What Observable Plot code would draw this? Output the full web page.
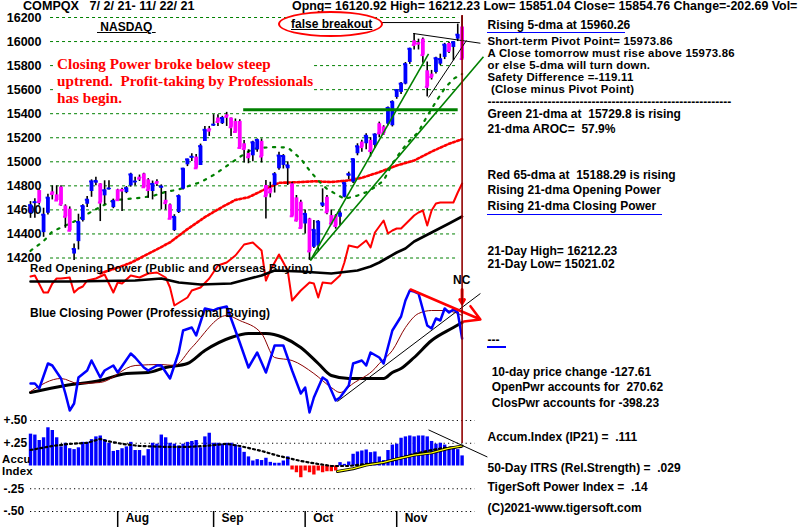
<!DOCTYPE html>
<html><head><meta charset="utf-8">
<script src="https://cdn.jsdelivr.net/npm/d3@7"></script>
<script src="https://cdn.jsdelivr.net/npm/@observablehq/plot@0.6"></script>
<style>
body{margin:0;background:#fff}
#chart{position:relative;width:800px;height:529px;overflow:hidden;background:#fff;font-family:"Liberation Sans",Arial,Helvetica,sans-serif;}
.t{position:absolute;white-space:pre;font-weight:bold;font-size:12px;color:#000;line-height:10px;transform:translateY(-50%)}
.s{font-size:11.4px;letter-spacing:0.22px}
</style></head><body><div id="chart"></div>
<script>
// ---------- DATA ----------
const open = [
14572,14655,14761,14411,14572,14750,14725,14789,14633,14606,
14233,14336,14511,14647,14753,14822,14817,14717,14770,14619,
14767,14770,14744,14800,14828,14872,14900,14850,14753,14835,
14781,14680,14642,14428,14578,14772,14975,15030,15039,14969,
15169,15275,15300,15364,15317,15390,15364,15336,15336,15150,
15070,15050,15100,15170,14803,14780,14803,14942,14970,14942,
14817,14700,14664,14483,14525,14289,14300,14630,14705,14553,
14553,14539,14705,14880,14830,15067,15164,15150,15178,15136,
15317,15290,15313,15300,15535,15577,15646,15826,16006,15990,
16020,15757,15729,15743,15812,15868,15984,15951,16020,16121];
const high = [
14669,14692,14767,14614,14731,14800,14800,14800,14642,14625,
14317,14564,14642,14711,14850,14872,14817,14842,14842,14690,
14772,14781,14794,14905,14872,14890,14905,14860,14840,14850,
14808,14753,14650,14560,14725,14947,15022,15067,15060,15147,
15294,15294,15392,15392,15378,15411,15364,15356,15350,15178,
15100,15170,15190,15190,14844,14830,14910,15080,15060,15000,
14830,14720,14680,14600,14530,14511,14511,14775,14720,14600,
14560,14590,14830,14914,15025,15150,15180,15233,15200,15233,
15330,15300,15456,15507,15600,15660,15826,15945,16067,16020,
16030,15830,15760,15870,15895,15985,15995,16000,16145,16212];
const low = [
14530,14530,14640,14372,14558,14683,14675,14630,14447,14419,
14180,14267,14500,14619,14705,14800,14503,14642,14765,14610,
14675,14586,14735,14790,14800,14836,14780,14697,14683,14794,
14600,14600,14520,14420,14570,14765,14960,15003,14940,14969,
15169,15211,15294,15294,15310,15294,15211,15239,15108,14990,
14984,15000,15080,14990,14525,14700,14740,14930,14940,14803,
14540,14500,14440,14400,14180,14280,14250,14620,14560,14480,
14440,14470,14700,14850,14820,15050,15080,15100,15040,15110,
15200,15220,15300,15290,15520,15560,15640,15810,15930,15930,
15820,15540,15680,15730,15800,15850,15900,15840,16000,15851];
const close = [
14639,14664,14665,14560,14702,14733,14678,14645,14543,14427,
14275,14499,14632,14685,14837,14841,14661,14763,14778,14673,
14681,14761,14781,14895,14836,14860,14788,14765,14816,14823,
14794,14656,14526,14542,14715,14943,15020,15042,14946,15130,
15266,15259,15309,15331,15364,15374,15287,15248,15115,15106,
15038,15162,15182,15044,14714,14746,14897,15052,15048,14970,
14547,14512,14449,14567,14255,14434,14502,14654,14580,14486,
14466,14572,14823,14897,15022,15129,15122,15216,15090,15227,
15236,15236,15448,15498,15596,15650,15812,15940,15972,15982,
15887,15623,15704,15861,15854,15974,15922,15994,16057,15855];

const ma21Idx = [0,3,5,8,11,13,16,19,22,25,28,31,34,36,39,42,45,48,51,55,59,62,64,66,68,70,72,75,77,79,81,83,85,87,89,90,91,92,93,95,97,99];
const ma21Val = [14260,14340,14420,14470,14520,14565,14625,14680,14690,14700,14715,14750,14770,14795,14830,14890,14965,15040,15108,15122,15120,15025,14928,14844,14775,14733,14692,14719,14747,14789,14844,14983,15090,15178,15247,15317,15380,15440,15500,15610,15690,15730];
const ma65Idx = [16,20,23,28,32,36,40,44,47,50,54,57,61,65,69,73,76,80,84,88,92,96,99];
const ma65Val = [14072,14120,14160,14253,14330,14440,14540,14625,14683,14705,14775,14825,14830,14838,14832,14845,14867,14914,14969,15011,15085,15150,15188];

const opIdx = [0,1,3,4,5,6,7,9,10,11,12,13,15,17,19,20,21,23,25,27,29,31,32,33,36,37,39,41,43,45,47,49,51,53,54,55,57,59,60,62,64,65,66,67,69,71,72,73,75,77,78,79,81,82,83,84,85,88,89,90,91,92,93,94,97,98,99];
const opVal = [24,25,8,8,17,22,22,23,8,12,14,20,22,26,8,18,17,25,23,27,28,23,13,-5,3,10,13,22,35,38,45,56,58,50,20,30,46,30,0,10,18,17,3,18,17,25,38,55,53,60,53,68,80,67,70,72,72,85,88,90,75,90,97,98,98,108,117];
const opMaIdx = [0,9,24,30,34,39,46,53,56,62,69,75,78,80,82,84,86,88,92,96,99];
const opMaVal = [19,19,20,22,18,16,17,25,30,29,27,30,34,38,43,48,52,59,68,77,84];

const cpIdx = [0,1,2,4,5,7,8,9,10,11,13,14,16,17,19,20,23,24,26,27,29,30,32,34,35,37,38,40,42,43,45,46,48,50,52,54,56,58,60,62,63,64,65,67,68,70,71,73,74,76,77,78,80,81,83,85,86,87,88,89,91,92,93,94,95,96,97,98,99];
const cpVal = [37,37,32,57,55,42,27,10,17,43,50,60,43,50,55,48,67,63,53,50,55,55,42,68,90,93,85,112,110,112,114,102,78,53,68,48,75,75,50,27,33,8,23,43,40,20,23,35,57,60,55,68,63,57,90,104,120,130,129,127,95,92,102,100,112,108,111,108,82];
const cpMaIdx = [0,7,11,16,24,30,33,37,45,48,53,56,60,65,69,71,74,79,80,83,86,89,92,95,98,99];
const cpMaVal = [29,42,37,38,55,56,55,73,105,100,87,63,60,47,33,28,37,52,57,70,93,107,110,110,107,105];
const cpMa2Idx = [0,8,16,22,27,31,36,40,46,50,54,58,62,66,69,73,77,81,83,85,88,92,97,99];
const cpMa2Val = [28,35,40,47,48,53,57,70,83,87,87,83,73,57,45,42,42,42,48,52,63,80,93,98];

const accum = [
0.35,0.34,0.28,0.31,0.42,0.39,0.31,0.21,0.25,0.19,
0.18,0.20,0.26,0.26,0.29,0.32,0.33,0.29,0.25,0.16,
0.17,0.19,0.21,0.26,0.17,0.17,0.11,0.18,0.25,0.24,
0.34,0.31,0.25,0.24,0.22,0.24,0.26,0.27,0.28,0.20,
0.32,0.36,0.25,0.25,0.24,0.25,0.25,0.23,0.20,0.15,
0.10,0.055,0.07,0.06,0.085,0.04,0.03,0.03,0.055,0.10,
-0.044,-0.074,-0.129,-0.055,-0.074,-0.099,-0.055,-0.074,-0.063,-0.063,
-0.055,0.037,0.018,0.044,0.129,0.154,0.165,0.176,0.147,0.154,
0.099,0.06,0.17,0.23,0.24,0.305,0.32,0.33,0.32,0.33,
0.33,0.32,0.27,0.24,0.25,0.23,0.20,0.21,0.18,0.111];
const accMaIdx = [0,5,9,13,16,17,21,25,31,36,40,45,48,53,57,62,66,69,73,77,81,84,88,92,95,99];
const accMaVal = [0.176,0.22,0.243,0.254,0.298,0.28,0.243,0.22,0.21,0.21,0.22,0.243,0.22,0.165,0.11,0.055,0.022,0,0,0.022,0.033,0.077,0.132,0.176,0.2,0.21];
const itrsIdx = [70.4,74,77,81,84,88,92,95.6,99];
const itrsVal = [-0.06,-0.03,0.01,0.04,0.077,0.12,0.145,0.19,0.22];

const priceTicks = [14200,14400,14600,14800,15000,15200,15400,15600,15800,16000,16200];
const accTicks = [0.5,0.25,-0.25,-0.5];
const accTickLabels = ["+.50","+.25","-.25","-.50"];
const monthNames = ["Aug","Sep","Oct","Nov"];
const monthStart = [20,42,63,84];

const resistance = 15432, resFrom = 48.9, resTo = 98.1;
const breakoutLevel = 16158, breakoutFrom = 78.7, breakoutTo = 98.6;
const greenTrends = [{x1:64.2,y1:14180,x2:91.3,y2:15898},{x1:64.2,y1:14180,x2:103.9,y2:15873}];
const blackTrends = [{x1:87.8,y1:16067,x2:103.2,y2:15986},{x1:91.3,y1:15535,x2:100,y2:16009}];
const cpTrendUp = [{x1:70.4,y1:19,x2:103.2,y2:127}];
const cpTrendDown = [{x1:87.2,y1:131,x2:103.2,y2:101}];
const ncArrow = [{x1:99,y1:131,x2:99,y2:117}];
const accTrend = [{x1:91.3,y1:0.397,x2:104.8,y2:0.099}];
const gridFrom = 4.6, gridTo = 98.2, accGridFrom = 0, accGridTo = 102;
const lastIdx = 99;

// ---------- BUILD ----------
const FONT = '"Liberation Sans", Arial, Helvetica, sans-serif';
const chart = document.getElementById("chart");
const days = d3.range(100).map(i => ({i, o: open[i], h: high[i], l: low[i], c: close[i]}));
const zip = (a, b) => a.map((i, k) => ({i, v: b[k]}));
const ma21 = zip(ma21Idx, ma21Val), ma65 = zip(ma65Idx, ma65Val);
const op = zip(opIdx, opVal), opMa = zip(opMaIdx, opMaVal);
const cp = zip(cpIdx, cpVal), cpMa = zip(cpMaIdx, cpMaVal), cpMa2 = zip(cpMa2Idx, cpMa2Val);
const acc = accum.map((v, i) => ({i, v}));
const accMa = zip(accMaIdx, accMaVal), itrs = zip(itrsIdx, itrsVal);
const bodyColor = d => d.c >= d.o ? "#0000ff" : "#ff00ff";

const base = {width: 800, marginLeft: 30, marginRight: 338.4, x: {domain: [0, 99], axis: null},
  color: {type: "identity"}, style: {background: "transparent", overflow: "visible", fontFamily: FONT}};
function place(svg) { svg.style.position = "absolute"; svg.style.left = "0px"; svg.style.top = "0px"; chart.appendChild(svg); }

// price panel
place(Plot.plot({...base, height: 265, marginTop: 17, marginBottom: 7.5,
  y: {domain: [14200, 16200], axis: null},
  marks: [
    Plot.ruleY(priceTicks, {x1: gridFrom, x2: gridTo, stroke: "#008000", strokeWidth: 1, strokeDasharray: "3,3"}),
    Plot.text(priceTicks, {y: d => d, text: d => String(d), frameAnchor: "left", textAnchor: "end", dx: 11, fontSize: 12.5, fontWeight: "bold", fill: "#000"}),
    Plot.line(ma65, {x: "i", y: "v", stroke: "#ff0000", strokeWidth: 2.6, strokeDasharray: "2.2,2.2"}),
    Plot.line(ma21, {x: "i", y: "v", stroke: "#008000", strokeWidth: 2.2, strokeDasharray: "2.2,6.5"}),
    Plot.ruleX(days, {x: "i", y1: "l", y2: "h", stroke: "#000", strokeWidth: 1.6}),
    Plot.ruleX(days, {x: "i", y1: "o", y2: "c", stroke: bodyColor, strokeWidth: 3.8}),
    Plot.ruleY(days, {y: "c", x1: d => d.i - 0.43, x2: d => d.i + 0.43, stroke: bodyColor, strokeWidth: 2}),
    Plot.ruleY([resistance], {x1: resFrom, x2: resTo, stroke: "#008000", strokeWidth: 3}),
    Plot.link(greenTrends, {x1: "x1", y1: "y1", x2: "x2", y2: "y2", stroke: "#008000", strokeWidth: 1.6}),
    Plot.link(blackTrends, {x1: "x1", y1: "y1", x2: "x2", y2: "y2", stroke: "#000", strokeWidth: 1}),
    Plot.ruleY([breakoutLevel], {x1: breakoutFrom, x2: breakoutTo, stroke: "#000", strokeWidth: 1})
  ]}));

// opening power
place(Plot.plot({...base, height: 305, marginTop: 0, marginBottom: 0,
  y: {domain: [-5, 300], axis: null},
  marks: [
    Plot.line(op, {x: "i", y: "v", stroke: "#ff0000", strokeWidth: 2}),
    Plot.line(opMa, {x: "i", y: "v", stroke: "#000", strokeWidth: 2.6})
  ]}));

// closing power
place(Plot.plot({...base, height: 420, marginTop: 0, marginBottom: 0,
  y: {domain: [0, 420], axis: null},
  marks: [
    Plot.line(cpMa2, {x: "i", y: "v", stroke: "#000", strokeWidth: 3, curve: "monotone-x"}),
    Plot.line(cpMa, {x: "i", y: "v", stroke: "#8b0000", strokeWidth: 1, curve: "monotone-x"}),
    Plot.link(cpTrendUp, {x1: "x1", y1: "y1", x2: "x2", y2: "y2", stroke: "#000", strokeWidth: 1}),
    Plot.line(cp, {x: "i", y: "v", stroke: "#0000ff", strokeWidth: 2.5}),
    Plot.arrow(cpTrendDown, {x1: "x1", y1: "y1", x2: "x2", y2: "y2", stroke: "#ff0000", strokeWidth: 2.5, headLength: 10}),
    Plot.arrow(ncArrow, {x1: "x1", y1: "y1", x2: "x2", y2: "y2", stroke: "#ff0000", strokeWidth: 3, headLength: 10})
  ]}));

// accumulation index
place(Plot.plot({...base, height: 529, marginTop: 420, marginBottom: 18,
  y: {domain: [-0.5, 0.5], axis: null},
  marks: [
    Plot.ruleY(accTicks, {x1: accGridFrom, x2: accGridTo, stroke: "#000", strokeWidth: 1.2, strokeDasharray: "1.2,3.2"}),
    Plot.text(accTicks, {y: d => d, text: (d, k) => accTickLabels[k], frameAnchor: "left", textAnchor: "start", dx: -27, fontSize: 12, fontWeight: "bold", fill: "#000"}),
    Plot.ruleX(acc, {x: "i", y1: 0, y2: "v", stroke: d => d.v >= 0 ? "#0000ff" : "#ff0000", strokeWidth: 3.4}),
    Plot.line(accMa, {x: "i", y: "v", stroke: "#000", strokeWidth: 2.2, strokeDasharray: "2,3"}),
    Plot.line(itrs, {x: "i", y: "v", stroke: "#000", strokeWidth: 3}),
    Plot.line(itrs, {x: "i", y: "v", stroke: "#ffff00", strokeWidth: 1.3}),
    Plot.link(accTrend, {x1: "x1", y1: "y1", x2: "x2", y2: "y2", stroke: "#000", strokeWidth: 1})
  ]}));

// month axis
place(Plot.plot({...base, height: 527, marginTop: 511, marginBottom: 0,
  marks: [
    Plot.ruleX(monthStart, {x: d => d, stroke: "#000", strokeWidth: 1.5}),
    Plot.text(monthStart, {x: d => d, text: (d, k) => monthNames[k], frameAnchor: "middle", textAnchor: "start", dx: 8, dy: -1, fontSize: 12, fontWeight: "bold", fill: "#000"})
  ]}));

// vertical marker of the last day
place(Plot.plot({...base, height: 443, marginTop: 15, marginBottom: 0,
  marks: [Plot.ruleX([lastIdx], {x: d => d, stroke: "#900000", strokeWidth: 1.6})]}));

// ---------- TEXT ----------
function label(text, x, y, st = {}, cls = "") {
  const d = document.createElement("div"); d.className = "t " + cls; d.textContent = text;
  d.style.left = x + "px"; d.style.top = y + "px"; Object.assign(d.style, st); chart.appendChild(d); return d;
}
function bar(x, y, w, h, color) {
  const d = document.createElement("div");
  Object.assign(d.style, {position: "absolute", left: x + "px", top: y + "px", width: w + "px", height: h + "px", background: color});
  chart.appendChild(d);
}
label("COMPQX   7/ 2/ 21- 11/ 22/ 21", 23, 6, {fontSize: "12.6px"});
label("Opng= 16120.92 High= 16212.23 Low= 15851.04 Close= 15854.76 Change=-202.69 Vol=", 292, 6, {fontSize: "12.4px"});
label(" NASDAQ ", 97, 27, {textDecoration: "underline"});

const ell = document.createElement("div");
Object.assign(ell.style, {position: "absolute", left: "278px", top: "11px", width: "105px", height: "26px", boxSizing: "border-box", border: "2px solid #ff0000", borderRadius: "50%", background: "#fff"});
chart.appendChild(ell);
label("false breakout", 291, 24, {textDecoration: "underline"});

const box = document.createElement("div");
Object.assign(box.style, {position: "absolute", left: "53px", top: "53px", width: "259px", height: "51px", background: "#fff"});
chart.appendChild(box);
const red = {fontFamily: '"Liberation Serif","Times New Roman",serif', fontSize: "15.2px", color: "#ff0000", lineHeight: "13px"};
label("Closing Power broke below steep", 57, 62.7, red);
label("uptrend.  Profit-taking by Professionals", 57, 80, red);
label("has begin.", 57, 96.7, red);

label("Red Opening Power (Public and Overseas Buying)", 30, 268, {}, "s");
label("Blue Closing Power (Professional Buying)", 30, 312.7);
label("NC", 453, 279.5);
label("Accu", 2, 458.5, {}, "s");
label("Index", 2, 471, {}, "s");

const R = 487.5;
label("Rising 5-dma at 15960.26", R, 25);
bar(487, 31.5, 138, 1.5, "#0000ff");
label("Short-term Pivot Point= 15973.86", R, 40.7, {}, "s");
label("A Close tomorrow must rise above 15973.86", R, 52.7, {}, "s");
label("or else 5-dma will turn down.", R, 64.7, {}, "s");
label("Safety Difference =-119.11", R, 76.7, {}, "s");
label(" (Close minus Pivot Point)", R, 89.3, {}, "s");
label("-".repeat(61), R, 101.7);
label("Green 21-dma at  15729.8 is rising", R, 114.3);
label("21-dma AROC=  57.9%", R, 129.3);
label("Red 65-dma at  15188.29 is rising", R, 175);
label("Rising 21-dma Opening Power", R, 190);
label("Rising 21-dma Closing Power", R, 206);
bar(487, 213.5, 175, 1.5, "#0000ff");
label("21-Day High= 16212.23", R, 251);
label("21-Day Low= 15021.02", R, 264);
label("---", R, 340);
bar(487, 346, 19, 2, "#0000ff");
label("10-day price change -127.61", 491.7, 371.7);
label("OpenPwr accounts for  270.62", 491.7, 386.7);
label("ClosPwr accounts for -398.23", 491.7, 402.7);
label("Accum.Index (IP21) =  .111", R, 437.3);
label("50-Day ITRS (Rel.Strength) =  .029", R, 467.7);
label("TigerSoft Power Index =  .14", R, 486.7);
label("(C)2021-www.tigersoft.com", R, 508.3);
</script></body></html>
